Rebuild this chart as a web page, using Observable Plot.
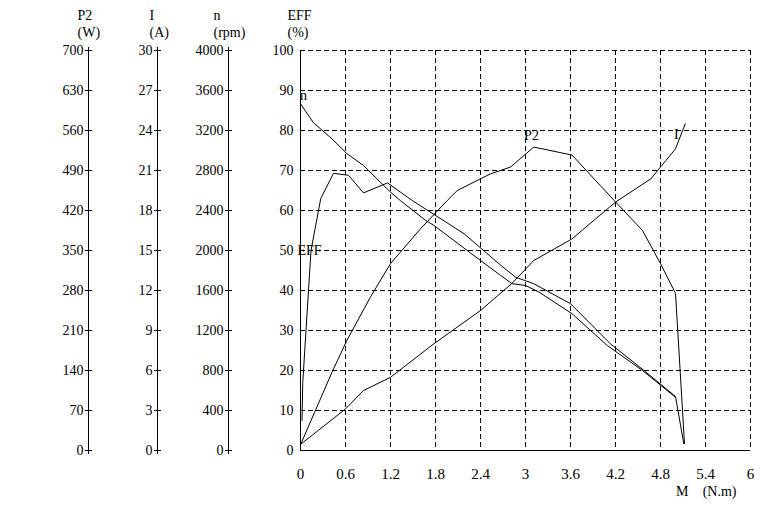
<!DOCTYPE html>
<html>
<head>
<meta charset="utf-8">
<script src="https://cdn.jsdelivr.net/npm/d3@7"></script>
<script src="https://cdn.jsdelivr.net/npm/@observablehq/plot@0.6"></script>
<style>
  html, body { margin: 0; padding: 0; background: #fff; }
  #chart svg { display: block; }
</style>
</head>
<body>
<div id="chart"></div>
<script>
// ---- Data (torque M in N.m) ----
const nM    = [0, 0.17, 0.42, 0.62, 0.84, 1.02, 1.2, 1.33, 1.67, 1.78, 2.4, 2.67, 2.82, 3.0, 3.18, 3.62, 4.09, 4.56, 5.0];
const nRpm  = [3468, 3280, 3116, 2968, 2850, 2716, 2584, 2500, 2300, 2250, 1900, 1750, 1668, 1650, 1584, 1368, 1050, 800, 532];

const effM   = [0.02, 0.03, 0.14, 0.27, 0.44, 0.64, 0.84, 1.16, 1.49, 2.18, 2.67, 2.87, 3.11, 3.6, 4.13, 4.58, 5.0, 5.11];
const effPct = [7.5, 17, 50, 63, 69.3, 68.8, 64.4, 66.9, 62.5, 54.2, 46.3, 43.3, 41.7, 36.7, 26.7, 20, 13.5, 1.7];

const p2M = [0, 0.42, 0.62, 0.93, 1.2, 1.6, 1.96, 2.09, 2.53, 2.8, 3.11, 3.62, 4.2, 4.56, 4.8, 5.0, 5.12];
const p2W = [10, 137, 193, 268, 327, 388, 438, 455, 484, 496, 531, 517, 435, 385, 327, 275, 12];

const iM = [0, 0.6, 0.84, 1.2, 1.78, 2.4, 2.82, 3.11, 3.62, 4.2, 4.67, 5.0, 5.13];
const iA = [0.45, 3.12, 4.5, 5.49, 8.01, 10.5, 12.54, 14.25, 15.87, 18.63, 20.37, 22.62, 24.51];

// ---- Axis ticks ----
const xTicks   = [0, 0.6, 1.2, 1.8, 2.4, 3, 3.6, 4.2, 4.8, 5.4, 6];
const effTicks = [0, 10, 20, 30, 40, 50, 60, 70, 80, 90, 100];
const p2Ticks  = [0, 70, 140, 210, 280, 350, 420, 490, 560, 630, 700];
const iTicks   = [0, 3, 6, 9, 12, 15, 18, 21, 24, 27, 30];
const nTicks   = [0, 400, 800, 1200, 1600, 2000, 2400, 2800, 3200, 3600, 4000];

const axisNames = ["P2", "I", "n", "EFF"];
const axisUnits = ["(W)", "(A)", "(rpm)", "(%)"];

// curve labels (M, EFF-scale %)
const curveLabelText = ["n", "EFF", "P2", "I"];
const curveLabelM    = [0.04, 0.12, 3.08, 5.01];
const curveLabelPct  = [88.8, 50, 78.8, 79];

// ---- Build tables ----
const zip = (xs, ys) => xs.map((x, i) => ({m: x, v: ys[i]}));
const nData = zip(nM, nRpm);
const effData = zip(effM, effPct);
const p2Data = zip(p2M, p2W);
const iData = zip(iM, iA);
const labels = curveLabelText.map((t, i) => ({t, m: curveLabelM[i], p: curveLabelPct[i]}));

const p2Full = p2Ticks[p2Ticks.length - 1];
const iFull = iTicks[iTicks.length - 1];
const nFull = nTicks[nTicks.length - 1];

const axisOffsets = [-212, -143, -72]; // P2, I, n axis lines relative to frame's left edge
const headerDx = [-223, -151, -87, -13];

function sideAxis(ticks, full, dx) {
  const rows = ticks.map(v => ({v, p: v / full * 100}));
  return [
    Plot.ruleX([0], {dx, stroke: "black"}),
    Plot.dot(rows, {y: "p", frameAnchor: "left", dx, symbol: "plus", r: 2.4, stroke: "black", strokeWidth: 1, fill: "none"}),
    Plot.text(rows, {y: "p", text: d => String(d.v), frameAnchor: "left", dx: dx - 5, textAnchor: "end", fontSize: 14, fill: "black"})
  ];
}

const dash = "5,3";

const chart = Plot.plot({
  width: 770,
  height: 520,
  marginLeft: 300,
  marginRight: 20,
  marginTop: 50,
  marginBottom: 70,
  x: {domain: [0, 6], axis: null},
  y: {domain: [0, 100], axis: null},
  style: {fontFamily: "'Liberation Serif', 'Times New Roman', serif", fontSize: "14px", color: "black", background: "white"},
  marks: [
    Plot.ruleX(xTicks.filter(d => d > 0), {stroke: "black", strokeDasharray: dash}),
    Plot.ruleY(effTicks.filter(d => d > 0), {stroke: "black", strokeDasharray: dash}),
    Plot.ruleX([0], {stroke: "black"}),
    Plot.ruleY([0], {stroke: "black"}),
    Plot.text(effTicks, {y: d => d, text: d => String(d), frameAnchor: "left", dx: -7, textAnchor: "end", fontSize: 14, fill: "black"}),
    ...sideAxis(p2Ticks, p2Full, axisOffsets[0]),
    ...sideAxis(iTicks, iFull, axisOffsets[1]),
    ...sideAxis(nTicks, nFull, axisOffsets[2]),
    ...axisNames.map((name, i) => Plot.text([name], {text: d => d, frameAnchor: "top-left", dx: headerDx[i], dy: -40, fontSize: 14, fill: "black"})),
    ...axisUnits.map((u, i) => Plot.text([u], {text: d => d, frameAnchor: "top-left", dx: headerDx[i], dy: -23, fontSize: 14, fill: "black"})),
    Plot.text(xTicks, {x: d => d, text: d => String(d), frameAnchor: "bottom", dy: 28, fontSize: 15, fill: "black"}),
    Plot.text(["M"], {text: d => d, frameAnchor: "bottom-right", dx: -62, dy: 45, fontSize: 14, fill: "black"}),
    Plot.text(["(N.m)"], {text: d => d, frameAnchor: "bottom-right", dx: -14, dy: 45, fontSize: 14, fill: "black"}),
    Plot.line(nData, {x: "m", y: d => d.v / nFull * 100, stroke: "black", strokeWidth: 1}),
    Plot.line(effData, {x: "m", y: "v", stroke: "black", strokeWidth: 1}),
    Plot.line(p2Data, {x: "m", y: d => d.v / p2Full * 100, stroke: "black", strokeWidth: 1}),
    Plot.line(iData, {x: "m", y: d => d.v / iFull * 100, stroke: "black", strokeWidth: 1}),
    Plot.text(labels, {x: "m", y: "p", text: "t", fontSize: 14, fill: "black"})
  ]
});

document.getElementById("chart").appendChild(chart);
</script>
</body>
</html>
